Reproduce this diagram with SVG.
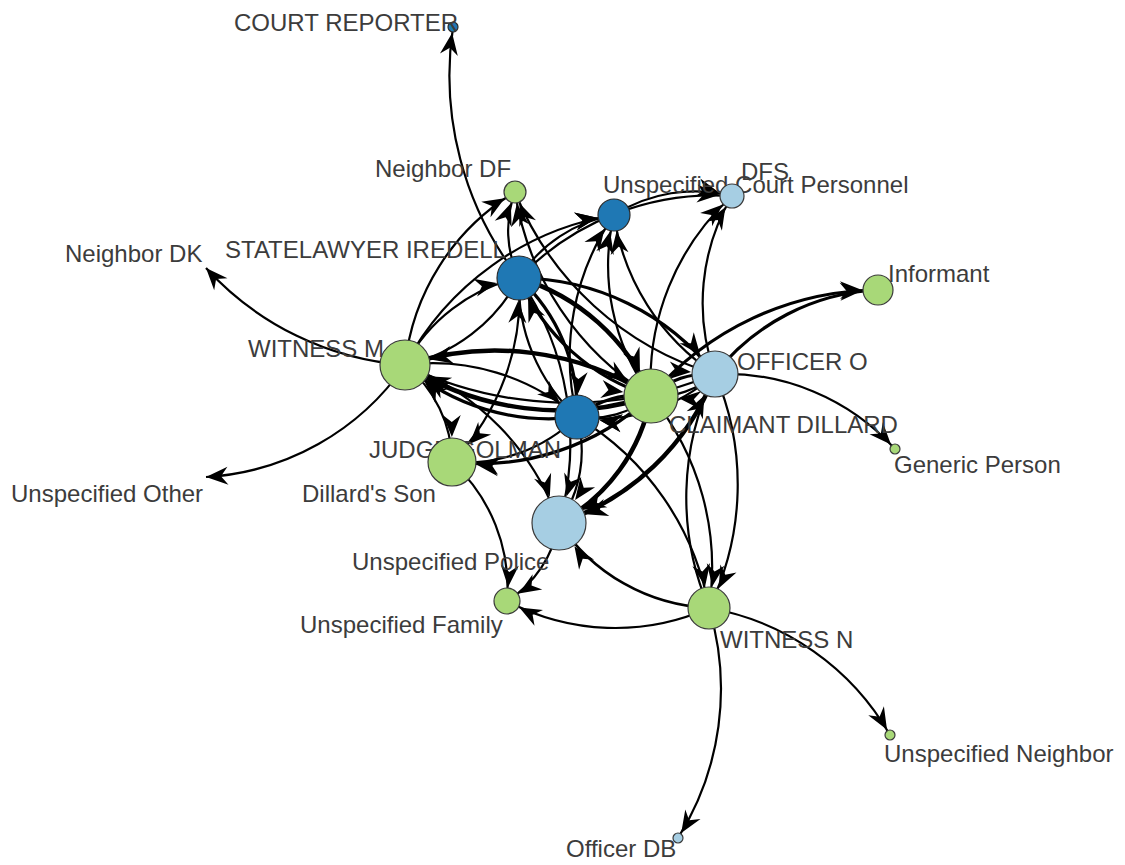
<svg xmlns="http://www.w3.org/2000/svg" width="1125" height="865" viewBox="0 0 1125 865">
<style>
.e{fill:none;stroke:#000;stroke-width:2.2}
.w3{stroke-width:3.2}
.w4{stroke-width:4.5}
.lbl{font-family:"Liberation Sans",Arial,sans-serif;font-size:24px;fill:#3c3c3c}
.g{fill:#a8d878;stroke:#3a3a3a;stroke-width:1.2}
.db{fill:#1f78b4;stroke:#2a2a2a;stroke-width:1.2}
.lb{fill:#a6cee3;stroke:#3a3a3a;stroke-width:1.2}
</style>
<defs>
<marker id="m0" markerUnits="userSpaceOnUse" markerWidth="22" markerHeight="18" viewBox="0 0 22 18" refX="22" refY="9" orient="auto" overflow="visible"><path d="M0,0 L22,9 L0,18 L7,9 Z"/></marker>
<marker id="m5" markerUnits="userSpaceOnUse" markerWidth="22" markerHeight="18" viewBox="0 0 22 18" refX="28" refY="9" orient="auto" overflow="visible"><path d="M0,0 L22,9 L0,18 L7,9 Z"/></marker>
<marker id="m11" markerUnits="userSpaceOnUse" markerWidth="22" markerHeight="18" viewBox="0 0 22 18" refX="34" refY="9" orient="auto" overflow="visible"><path d="M0,0 L22,9 L0,18 L7,9 Z"/></marker>
<marker id="m12" markerUnits="userSpaceOnUse" markerWidth="22" markerHeight="18" viewBox="0 0 22 18" refX="35" refY="9" orient="auto" overflow="visible"><path d="M0,0 L22,9 L0,18 L7,9 Z"/></marker>
<marker id="m13" markerUnits="userSpaceOnUse" markerWidth="22" markerHeight="18" viewBox="0 0 22 18" refX="36" refY="9" orient="auto" overflow="visible"><path d="M0,0 L22,9 L0,18 L7,9 Z"/></marker>
<marker id="m15" markerUnits="userSpaceOnUse" markerWidth="22" markerHeight="18" viewBox="0 0 22 18" refX="38" refY="9" orient="auto" overflow="visible"><path d="M0,0 L22,9 L0,18 L7,9 Z"/></marker>
<marker id="m16" markerUnits="userSpaceOnUse" markerWidth="22" markerHeight="18" viewBox="0 0 22 18" refX="39" refY="9" orient="auto" overflow="visible"><path d="M0,0 L22,9 L0,18 L7,9 Z"/></marker>
<marker id="m21" markerUnits="userSpaceOnUse" markerWidth="22" markerHeight="18" viewBox="0 0 22 18" refX="44" refY="9" orient="auto" overflow="visible"><path d="M0,0 L22,9 L0,18 L7,9 Z"/></marker>
<marker id="m22" markerUnits="userSpaceOnUse" markerWidth="22" markerHeight="18" viewBox="0 0 22 18" refX="45" refY="9" orient="auto" overflow="visible"><path d="M0,0 L22,9 L0,18 L7,9 Z"/></marker>
<marker id="m23" markerUnits="userSpaceOnUse" markerWidth="22" markerHeight="18" viewBox="0 0 22 18" refX="46" refY="9" orient="auto" overflow="visible"><path d="M0,0 L22,9 L0,18 L7,9 Z"/></marker>
<marker id="m24" markerUnits="userSpaceOnUse" markerWidth="22" markerHeight="18" viewBox="0 0 22 18" refX="47" refY="9" orient="auto" overflow="visible"><path d="M0,0 L22,9 L0,18 L7,9 Z"/></marker>
<marker id="m25" markerUnits="userSpaceOnUse" markerWidth="22" markerHeight="18" viewBox="0 0 22 18" refX="48" refY="9" orient="auto" overflow="visible"><path d="M0,0 L22,9 L0,18 L7,9 Z"/></marker>
<marker id="m27" markerUnits="userSpaceOnUse" markerWidth="22" markerHeight="18" viewBox="0 0 22 18" refX="50" refY="9" orient="auto" overflow="visible"><path d="M0,0 L22,9 L0,18 L7,9 Z"/></marker>
</defs>
<rect width="1125" height="865" fill="#fff"/>
<g id="edges">
<path class="e" d="M519 278 A330 330 0 0 1 453 27" marker-end="url(#m5)"/>
<path class="e" d="M405 365 A300 300 0 0 1 206 268" marker-end="url(#m0)"/>
<path class="e" d="M405 365 A260 260 0 0 1 206 477" marker-end="url(#m0)"/>
<path class="e" d="M405 365 A230 230 0 0 1 515 192" marker-end="url(#m11)"/>
<path class="e" d="M405 365 A290 290 0 0 1 614 215" marker-end="url(#m16)"/>
<path class="e" d="M519 278 A110 110 0 0 1 515 192" marker-end="url(#m11)"/>
<path class="e" d="M651 396 A290 290 0 0 1 515 192" marker-end="url(#m11)"/>
<path class="e" d="M715 374 A310 310 0 0 1 515 192" marker-end="url(#m11)"/>
<path class="e" d="M614 215 A150 150 0 0 1 732 196" marker-end="url(#m12)"/>
<path class="e" d="M651 396 A250 250 0 0 1 732 196" marker-end="url(#m12)"/>
<path class="e" d="M715 374 A210 210 0 0 1 732 196" marker-end="url(#m12)"/>
<path class="e" d="M519 278 A270 270 0 0 1 732 196" marker-end="url(#m12)"/>
<path class="e" d="M519 278 A140 140 0 0 1 614 215" marker-end="url(#m16)"/>
<path class="e" d="M651 396 A220 220 0 0 1 614 215" marker-end="url(#m16)"/>
<path class="e" d="M715 374 A230 230 0 0 1 614 215" marker-end="url(#m16)"/>
<path class="e" d="M577 417 A250 250 0 0 1 614 215" marker-end="url(#m16)"/>
<path class="e" d="M405 365 A170 170 0 0 1 519 278" marker-end="url(#m22)"/>
<path class="e" d="M519 278 A170 170 0 0 1 405 365" marker-end="url(#m25)"/>
<path class="e w4" d="M519 278 A210 210 0 0 1 651 396" marker-end="url(#m27)"/>
<path class="e w3" d="M651 396 A210 210 0 0 1 519 278" marker-end="url(#m22)"/>
<path class="e w3" d="M519 278 A250 250 0 0 1 715 374" marker-end="url(#m23)"/>
<path class="e w3" d="M519 278 A180 180 0 0 1 577 417" marker-end="url(#m22)"/>
<path class="e" d="M577 417 A180 180 0 0 1 519 278" marker-end="url(#m22)"/>
<path class="e" d="M519 278 A290 290 0 0 1 559 523" marker-end="url(#m27)"/>
<path class="e" d="M519 278 A240 240 0 0 1 452 462" marker-end="url(#m24)"/>
<path class="e" d="M405 365 A125 125 0 0 1 452 462" marker-end="url(#m24)"/>
<path class="e w4" d="M405 365 A290 290 0 0 1 651 396" marker-end="url(#m27)"/>
<path class="e w4" d="M651 396 A290 290 0 0 1 405 365" marker-end="url(#m25)"/>
<path class="e w3" d="M577 417 A220 220 0 0 1 405 365" marker-end="url(#m25)"/>
<path class="e" d="M405 365 A220 220 0 0 1 577 417" marker-end="url(#m22)"/>
<path class="e" d="M715 374 A380 380 0 0 1 405 365" marker-end="url(#m25)"/>
<path class="e" d="M405 365 A260 260 0 0 1 559 523" marker-end="url(#m27)"/>
<path class="e w4" d="M651 396 A180 180 0 0 1 559 523" marker-end="url(#m27)"/>
<path class="e w4" d="M715 374 A250 250 0 0 1 559 523" marker-end="url(#m27)"/>
<path class="e" d="M577 417 A125 125 0 0 1 559 523" marker-end="url(#m27)"/>
<path class="e w3" d="M651 396 A85 85 0 0 1 715 374" marker-end="url(#m23)"/>
<path class="e" d="M715 374 A85 85 0 0 1 651 396" marker-end="url(#m27)"/>
<path class="e" d="M651 396 A95 95 0 0 1 577 417" marker-end="url(#m22)"/>
<path class="e w3" d="M577 417 A95 95 0 0 1 651 396" marker-end="url(#m27)"/>
<path class="e" d="M715 374 A170 170 0 0 1 577 417" marker-end="url(#m22)"/>
<path class="e" d="M577 417 A160 160 0 0 1 452 462" marker-end="url(#m24)"/>
<path class="e w3" d="M651 396 A250 250 0 0 1 452 462" marker-end="url(#m24)"/>
<path class="e" d="M715 374 A280 280 0 0 1 709 608" marker-end="url(#m21)"/>
<path class="e" d="M651 396 A270 270 0 0 1 709 608" marker-end="url(#m21)"/>
<path class="e" d="M577 417 A280 280 0 0 1 709 608" marker-end="url(#m21)"/>
<path class="e" d="M709 608 A280 280 0 0 1 715 374" marker-end="url(#m23)"/>
<path class="e" style="stroke-width:2.6" d="M709 608 A190 190 0 0 1 559 523" marker-end="url(#m27)"/>
<path class="e" d="M709 608 A230 230 0 0 1 507 601" marker-end="url(#m13)"/>
<path class="e" d="M559 523 A115 115 0 0 1 507 601" marker-end="url(#m13)"/>
<path class="e" d="M452 462 A170 170 0 0 1 507 601" marker-end="url(#m13)"/>
<path class="e w3" d="M715 374 A220 220 0 0 1 878 290" marker-end="url(#m15)"/>
<path class="e w3" d="M651 396 A300 300 0 0 1 878 290" marker-end="url(#m15)"/>
<path class="e" d="M715 374 A230 230 0 0 1 895 449" marker-end="url(#m5)"/>
<path class="e" d="M709 608 A260 260 0 0 1 890 735" marker-end="url(#m5)"/>
<path class="e" d="M709 608 A280 280 0 0 1 678 838" marker-end="url(#m5)"/>
</g>
<g id="n-court-reporter"><circle class="db" cx="453" cy="27" r="5"/><text class="lbl" x="234" y="31">COURT REPORTER</text></g>
<g id="n-neighbor-df"><circle class="g" cx="515" cy="192" r="11"/><text class="lbl" x="375" y="177">Neighbor DF</text></g>
<g id="n-unspecified-court-personnel"><circle class="db" cx="614" cy="215" r="16"/><text class="lbl" x="603" y="193">Unspecified Court Personnel</text></g>
<g id="n-dfs"><circle class="lb" cx="732" cy="196" r="12"/><text class="lbl" x="741" y="180">DFS</text></g>
<g id="n-statelawyer-iredell"><circle class="db" cx="519" cy="278" r="22"/><text class="lbl" x="225" y="258">STATELAWYER IREDELL</text></g>
<g id="n-neighbor-dk"><text class="lbl" x="65" y="262">Neighbor DK</text></g>
<g id="n-witness-m"><circle class="g" cx="405" cy="365" r="25"/><text class="lbl" x="248" y="357">WITNESS M</text></g>
<g id="n-informant"><circle class="g" cx="878" cy="290" r="15"/><text class="lbl" x="888" y="282">Informant</text></g>
<g id="n-officer-o"><circle class="lb" cx="715" cy="374" r="23"/><text class="lbl" x="737" y="370">OFFICER O</text></g>
<g id="n-claimant-dillard"><circle class="g" cx="651" cy="396" r="27"/><text class="lbl" x="669" y="433">CLAIMANT DILLARD</text></g>
<g id="n-judge"><circle class="db" cx="577" cy="417" r="22"/><text class="lbl" x="369" y="458">JUDGE GOLMAN</text></g>
<g id="n-generic-person"><circle class="g" cx="895" cy="449" r="5"/><text class="lbl" x="894" y="473">Generic Person</text></g>
<g id="n-dillards-son"><circle class="g" cx="452" cy="462" r="24"/><text class="lbl" x="302" y="502">Dillard's Son</text></g>
<g id="n-unspecified-other"><text class="lbl" x="11" y="502">Unspecified Other</text></g>
<g id="n-unspecified-police"><circle class="lb" cx="559" cy="523" r="27"/><text class="lbl" x="352" y="570">Unspecified Police</text></g>
<g id="n-unspecified-family"><circle class="g" cx="507" cy="601" r="13"/><text class="lbl" x="300" y="633">Unspecified Family</text></g>
<g id="n-witness-n"><circle class="g" cx="709" cy="608" r="21"/><text class="lbl" x="720" y="648">WITNESS N</text></g>
<g id="n-unspecified-neighbor"><circle class="g" cx="890" cy="735" r="5"/><text class="lbl" x="884" y="762">Unspecified Neighbor</text></g>
<g id="n-officer-db"><circle class="lb" cx="678" cy="838" r="5"/><text class="lbl" x="566" y="857">Officer DB</text></g>
</svg>
